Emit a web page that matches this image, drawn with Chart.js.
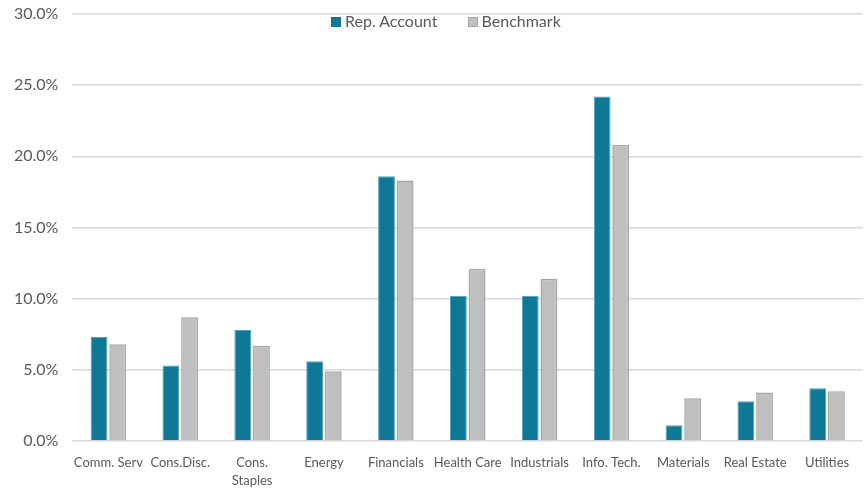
<!DOCTYPE html>
<html>
<head>
<meta charset="utf-8">
<script src="https://cdn.jsdelivr.net/npm/chart.js@4"></script>
<style>
  html, body { margin: 0; padding: 0; background: #fff; }
  #wrap { position: relative; width: 865px; height: 489px; }
  #legend { position: absolute; top: 11px; left: 331px; font-family: Lato, sans-serif; font-size: 16px; color: #595959; white-space: nowrap; }
  #legend span.box { display: inline-block; width: 10px; height: 10px; margin-right: 4px; vertical-align: 0px; box-sizing: border-box; }
  #legend span.item { margin-right: 26px; }
</style>
</head>
<body>
<div id="wrap">
  <canvas id="chart" width="865" height="489"></canvas>
  <div id="legend">
    <span class="item"><span class="box" style="background:#0E7896"></span>Rep. Account</span>
    <span class="item"><span class="box" style="background:#BFBFBF;border:1px solid #A5A5A5"></span>Benchmark</span>
  </div>
</div>
<script>
const sectors = ['Comm. Serv', 'Cons.Disc.', ['Cons.', 'Staples'], 'Energy', 'Financials', 'Health Care',
    'Industrials', 'Info. Tech.', 'Materials', 'Real Estate', 'Utilities'];
const repAccount = [7.3, 5.3, 7.8, 5.6, 18.6, 10.2, 10.2, 24.2, 1.1, 2.8, 3.7];
const benchmark = [6.8, 8.7, 6.7, 4.9, 18.3, 12.1, 11.4, 20.8, 3.0, 3.4, 3.5];

const context = document.getElementById('chart');
const sectorChart = new Chart(context, {
    type: 'bar',
    data: {
        labels: sectors,
        datasets: [{
            label: 'Rep. Account',
            data: repAccount,
            backgroundColor: '#0E7896',
            borderColor: '#4FA3BC',
            borderWidth: 1
        },
        {
            label: 'Benchmark',
            data: benchmark,
            backgroundColor: '#BFBFBF',
            borderColor: '#A5A5A5',
            borderWidth: 1.5
        }]
    },
    options: {
        responsive: false,
        animation: false,
        layout: { padding: { top: 0, right: 2, left: 0, bottom: 0 } },
        plugins: { legend: { display: false }, tooltip: { enabled: false } },
        datasets: { bar: { categoryPercentage: 0.52, barPercentage: 0.9 } },
        scales: {
            x: {
                grid: { display: false },
                border: { display: false },
                ticks: { color: '#595959', font: { family: 'Lato', size: 13, lineHeight: 1.35 }, maxRotation: 0, autoSkip: false, padding: 5 },
                afterFit: scale => { scale.height = 48; }
            },
            y: {
                min: 0,
                max: 30,
                grid: { color: '#D9D9D9', lineWidth: 1.5, drawTicks: false },
                border: { display: false },
                ticks: {
                    stepSize: 5,
                    padding: 14,
                    color: '#595959',
                    font: { family: 'Lato', size: 16, lineHeight: 1 },
                    callback: value => value.toFixed(1) + '%'
                },
                afterFit: scale => { scale.paddingTop = 14; scale.paddingBottom = 0; }
            }
        }
    }
});
</script>
</body>
</html>
